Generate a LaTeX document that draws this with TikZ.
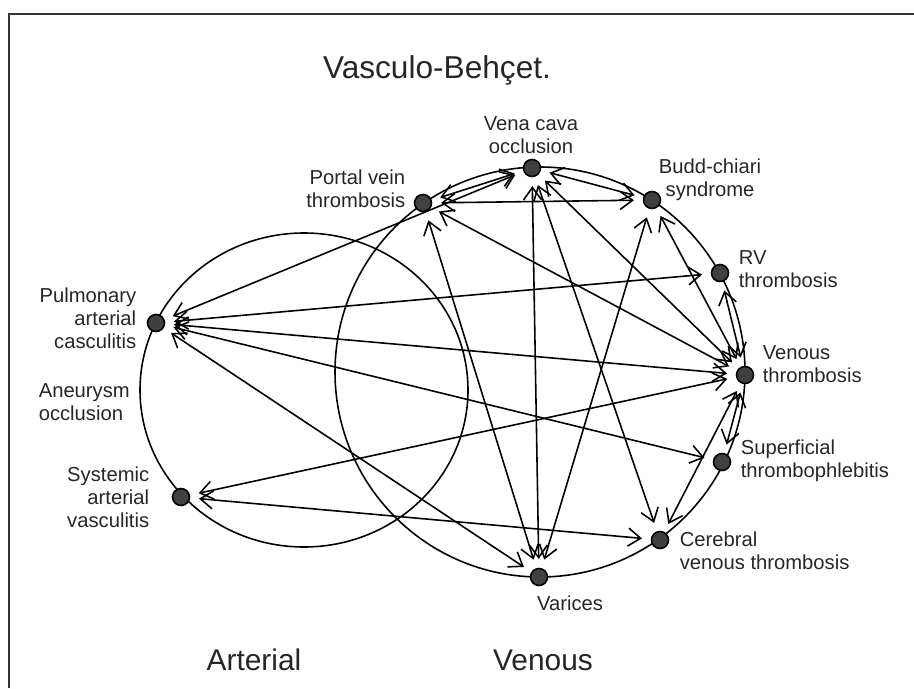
\documentclass[tikz,border=0pt]{standalone}
\usepackage{fontspec}
\setmainfont{Liberation Sans}
\usepackage{tikz}
\usetikzlibrary{arrows.meta}

\tikzset{
  dot/.style={circle,draw=black,fill=black!75,minimum size=0.34cm,inner sep=0pt},
  lab/.style={inner sep=0pt,text=black!85,font=\fontsize{11.5}{13}\selectfont},
  big/.style={inner sep=0pt,text=black!85,font=\fontsize{17}{19}\selectfont},
  arr/.style={{Straight Barb[length=2.5mm,width=3.6mm]}-{Straight Barb[length=2.5mm,width=3.6mm]},shorten <=5pt,shorten >=5pt}
}

\begin{document}
\begin{tikzpicture}[line width=0.9pt]
\useasboundingbox (0,0) rectangle (18.28,13.76);
\draw[line width=1.3pt,black!80] (0.18,0) -- (0.18,13.48) -- (18.28,13.48);
\node[big,font=\fontsize{18}{20}\selectfont] (title) at (8.74,12.36) {Vasculo-Behçet.};
\node[big] (art) at (5.08,0.56) {Arterial};
\node[big] (veno) at (10.86,0.56) {Venous};
% the two groups
\draw (6.08,5.96) ellipse (3.28 and 3.14);
\draw (10.80,6.32) circle (4.10);
% diseases
\node[dot] (pul) at (3.12,7.30) {};
\node[dot] (sys) at (3.62,3.82) {};
\node[dot] (por) at (8.46,9.70) {};
\node[dot] (vena) at (10.64,10.40) {};
\node[dot] (budd) at (13.04,9.76) {};
\node[dot] (rv) at (14.40,8.30) {};
\node[dot] (ven) at (14.90,6.26) {};
\node[dot] (sup) at (14.44,4.52) {};
\node[dot] (cer) at (13.20,2.96) {};
\node[dot] (var) at (10.78,2.22) {};
\node[lab,align=right,anchor=east] at (2.74,7.40) {Pulmonary\\arterial\\casculitis};
\node[lab,align=left,anchor=west] at (0.76,5.72) {Aneurysm\\occlusion};
\node[lab,align=right,anchor=east] at (3.00,3.82) {Systemic\\arterial\\vasculitis};
\node[lab,align=right,anchor=east] at (8.12,9.98) {Portal vein\\thrombosis};
\node[lab,align=center] at (10.62,11.06) {Vena cava\\occlusion};
\node[lab,align=center] at (14.20,10.16) {Budd-chiari\\syndrome};
\node[lab,align=left,anchor=west] at (14.76,8.38) {RV\\thrombosis};
\node[lab,align=left,anchor=west] at (15.24,6.48) {Venous\\thrombosis};
\node[lab,align=left,anchor=west] at (14.80,4.54) {Superficial\\thrombophlebitis};
\node[lab,align=left,anchor=west] at (13.58,2.74) {Cerebral\\venous thrombosis};
\node[lab] at (11.40,1.70) {Varices};
% links
\foreach \a/\b in {pul/vena,pul/rv,pul/ven,pul/sup,pul/var,sys/ven,sys/cer,
  por/vena,por/budd,por/ven,por/var,vena/budd,vena/var,vena/cer,vena/ven,
  budd/var,budd/ven,rv/ven,ven/sup,ven/cer}
  \draw[arr] (\a) -- (\b);
\end{tikzpicture}
\end{document}
